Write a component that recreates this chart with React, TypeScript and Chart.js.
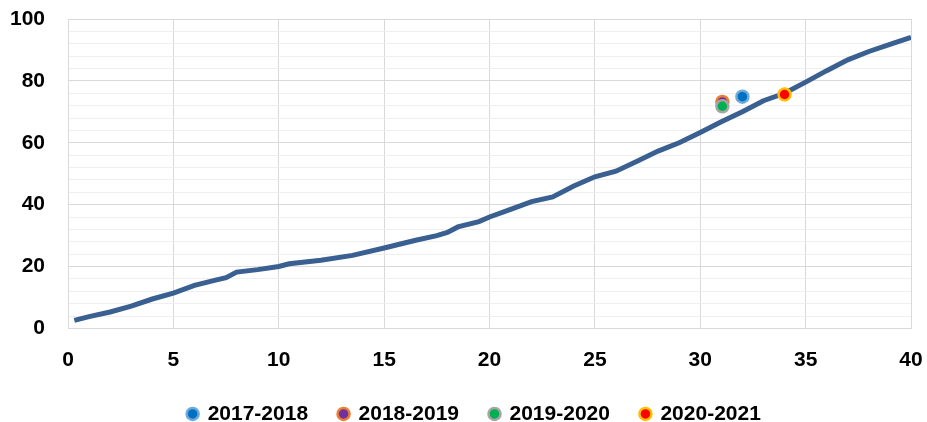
import React, { useEffect, useRef } from "react";
import { Chart, registerables } from "chart.js";

Chart.register(...registerables);

const lineX = [0.3, 1, 2, 3, 4, 5, 6, 7, 7.5, 8, 9, 10, 10.5, 12, 13.5, 15, 16.5, 17.5, 18, 18.5, 19.5, 20, 21, 22, 23, 24, 25, 26, 27, 28, 29, 30, 31, 32, 33, 34, 35, 36, 37, 38, 39, 40];
const lineY = [2.6, 3.8, 5.3, 7.2, 9.5, 11.4, 13.9, 15.6, 16.4, 18.2, 19, 20, 20.9, 22, 23.6, 26, 28.5, 30, 31, 32.8, 34.5, 36, 38.5, 41, 42.5, 46, 49, 50.8, 54, 57.3, 60, 63.3, 66.8, 70, 73.6, 76, 79.6, 83.3, 86.8, 89.5, 91.8, 94.1];

const seasons = ["2017-2018", "2018-2019", "2019-2020", "2020-2021"];
const seasonX = [32, 31.05, 31.05, 34];
const seasonY = [74.9, 73.2, 71.8, 75.6];
const seasonFill = ["#0070C0", "#7030A0", "#00B050", "#FF0000"];
const seasonRing = ["#6FA8DC", "#ED7D31", "#A5A5A5", "#FFC000"];

const xTicks = [0, 5, 10, 15, 20, 25, 30, 35, 40];
const yLabelled = [0, 20, 40, 60, 80, 100];

export default function App() {
  const ref = useRef<HTMLCanvasElement | null>(null);

  useEffect(() => {
    if (!ref.current) return;
    const font = { family: "'Liberation Sans', Arial, sans-serif", size: 21, weight: "bold" as const };

    const scatterSets = seasons.map((name, i) => ({
      type: "scatter" as const,
      label: name,
      data: [{ x: seasonX[i], y: seasonY[i] }],
      backgroundColor: seasonFill[i],
      borderColor: seasonRing[i],
      borderWidth: 2.5,
      pointRadius: 6,
      pointHoverRadius: 6,
      pointStyle: "circle",
      order: i === 1 ? 3 : i === 2 ? 1 : 2,
    }));

    const shiftLegend = {
      id: "shiftLegend",
      afterLayout(chart: any) {
        const lg = chart.legend;
        if (!lg) return;
        lg.left += 19;
        lg.right += 19;
      },
    };

    const chart = new Chart(ref.current, {
      type: "line",
      data: {
        datasets: [
          {
            type: "line" as const,
            label: "curve",
            data: lineX.map((x, i) => ({ x, y: lineY[i] })),
            borderColor: "#3A6091",
            borderWidth: 5,
            pointRadius: 0,
            tension: 0,
            fill: false,
            order: 10,
          },
          ...scatterSets,
        ] as any,
      },
      plugins: [shiftLegend],
      options: {
        animation: false,
        responsive: true,
        maintainAspectRatio: false,
        layout: { padding: { top: 19, right: 16, left: 0, bottom: -12.4 } },
        plugins: {
          tooltip: { enabled: false },
          legend: {
            position: "bottom",
            labels: {
              filter: (item: any) => item.text !== "curve",
              sort: (a: any, b: any) => a.datasetIndex - b.datasetIndex,
              usePointStyle: true,
              boxWidth: 9,
              boxHeight: 8.5,
              padding: 31,
              color: "#000",
              font,
            },
          },
        },
        scales: {
          x: {
            type: "linear",
            min: 0,
            max: 40,
            afterBuildTicks: (s: any) => {
              s.ticks = xTicks.map((v) => ({ value: v }));
            },
            ticks: { color: "#000", font, padding: 19, maxRotation: 0 },
            grid: { color: "#d9d9d9", lineWidth: 1, drawTicks: false },
            border: { color: "#d9d9d9" },
            afterFit: (s: any) => {
              s.height = 44;
              s.paddingLeft = 0;
              s.paddingRight = 0;
            },
          },
          y: {
            type: "linear",
            min: 0,
            max: 100,
            ticks: {
              stepSize: 4,
              color: "#000",
              font,
              padding: 23,
              autoSkip: false,
              callback: (v: any) => (yLabelled.includes(Number(v)) ? String(v) : ""),
            },
            grid: {
              drawTicks: false,
              color: (c: any) => (c.tick && c.tick.value % 20 === 0 ? "#d9d9d9" : "#efefef"),
              lineWidth: 1,
            },
            border: { color: "#d9d9d9" },
            afterFit: (s: any) => {
              s.width = 68;
              s.paddingTop = 0;
              s.paddingBottom = 0;
            },
          },
        },
      } as any,
    });
    return () => chart.destroy();
  }, []);

  return (
    <div style={{ position: "fixed", left: 0, top: 0, width: 927, height: 422, background: "#fff" }}>
      <canvas ref={ref} />
    </div>
  );
}
